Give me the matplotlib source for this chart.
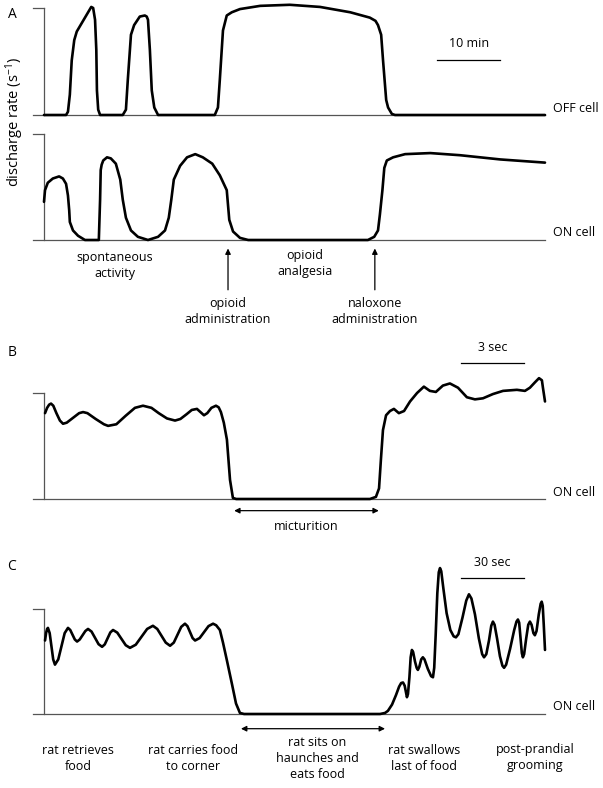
import numpy as np
import matplotlib
matplotlib.use("Agg")
import matplotlib.pyplot as plt

plt.rcParams['font.family'] = ['Open Sans', 'DejaVu Sans']
plt.rcParams['mathtext.fontset'] = 'custom'
plt.rcParams['mathtext.rm'] = 'Open Sans'
plt.rcParams['mathtext.it'] = 'Open Sans'

# ---- data (time in panel units, rate in % of the tick mark) ----
# panel A, OFF cell (min)
off_t = [0, 3.5, 3.8, 4.1, 4.4, 4.8, 5.2, 6.3, 7.2, 7.5, 7.8, 8.1, 8.3, 8.4, 8.6, 8.9,
         12.5, 13.0, 13.3, 13.8, 14.3, 15.2, 16.0, 16.3, 16.5, 16.8, 17.1, 17.5, 18.1,
         27.1, 27.6, 27.9, 28.4, 29.0, 29.8, 31.1, 34.3, 39.0, 43.8, 48.6, 51.7,
         52.6, 53.0, 53.5, 53.8, 54.3, 54.6, 55.2, 55.7, 79.5]
off_r = [0, 0, 3, 19, 51, 70, 78, 89, 98, 101, 100, 89, 61, 23, 5, 0,
         0, 5, 33, 75, 84, 92, 93, 92, 89, 61, 23, 7, 0,
         0, 7, 33, 79, 93, 96, 99, 102, 103, 101, 96, 91,
         88, 84, 75, 51, 14, 7, 1, 0, 0]

# panel A, ON cell (min)
on_t = [0, 0.16, 0.6, 1.4, 2.4, 3.0, 3.5, 3.8, 4.0, 4.1, 4.6, 5.4, 6.5, 8.7,
        8.9, 9.0, 9.15, 9.4, 10.0, 10.6, 11.4, 12.1, 12.5, 13.0, 13.8, 14.9, 16.5,
        18.1, 19.2, 19.8, 20.2, 20.6, 21.6, 22.7, 24.0, 25.2, 26.7, 27.9, 29.0,
        29.2, 29.4, 30.0, 31.1, 32.4, 51.4, 52.4, 53.0, 53.3, 53.7, 54.0, 54.4,
        55.4, 57.3, 61.3, 66.0, 72.4, 79.5]
on_r = [36, 47, 54, 58, 60, 58, 53, 42, 28, 17, 9, 4, 0, 0,
        38, 66, 71, 75, 78, 77, 72, 57, 38, 21, 9, 3, 0,
        3, 9, 21, 38, 57, 70, 78, 81, 78, 72, 61, 47,
        33, 19, 8, 2, 0, 0, 3, 9, 24, 47, 68, 75,
        78, 81, 82, 80, 76, 73]

# panel B, ON cell (s)
b_t = [0.05, 0.15, 0.25, 0.34, 0.45, 0.6, 0.77, 0.92, 1.1, 1.4, 1.7, 1.89,
       2.1, 2.5, 2.9, 3.1, 3.5, 3.95, 4.4, 4.79, 5.2, 5.55, 5.95, 6.34, 6.6,
       6.9, 7.15, 7.4, 7.57, 7.74, 7.9, 8.1, 8.32, 8.45, 8.56, 8.7, 8.85, 9.0,
       9.14, 9.3, 9.48, 15.77, 16.06,
       16.21, 16.30, 16.40, 16.55, 16.74, 16.93, 17.17, 17.42, 17.71, 18.05,
       18.38, 18.67, 18.96, 19.30, 19.64, 20.03, 20.46, 20.85, 21.24, 21.72,
       22.21, 22.88, 23.27, 23.51, 23.75, 23.95, 24.09, 24.14, 24.24]
b_r = [81, 86, 89, 90, 88, 81, 74, 71, 72, 76.5, 81, 82,
       81, 75.5, 70.5, 69, 70.5, 78.5, 86, 88, 86, 81, 76, 74, 75.5,
       80, 84, 85, 82, 79, 81, 86, 88, 86.5, 82, 72, 56, 18,
       1, 0, 0, 0, 2,
       10, 37, 65, 79, 83, 85, 81, 83, 92, 100,
       106, 102, 101, 107, 109, 105, 96, 94, 95, 99,
       102, 103, 102, 105, 110, 114, 112, 105, 92]

# panel C, ON cell (s)
c_t = [0.5, 1.0, 1.5, 1.9, 2.75, 3.6, 4.45, 5.3, 6.9, 8.45, 10.0, 11.6,
       12.7, 13.8, 14.9, 16.0, 17.3, 18.65, 20.0, 21.3, 23.0, 24.7, 26.4, 28.1,
       29.4, 30.75, 32.1, 33.4, 35.45, 37.5, 39.55, 41.6, 44.4, 47.15, 49.9,
       52.7, 54.8, 56.85, 58.9, 61.0, 62.8, 64.6, 66.4, 68.2, 69.4, 70.65,
       71.9, 73.1, 75.3, 77.45, 79.6, 81.8, 83.3, 85.1, 86.6, 88.5, 91.0,
       92.9, 94.8, 96.8,
       162.6, 165.0, 166.4, 168.4, 170.3, 171.8, 172.8, 173.7, 174.5, 175.1,
       175.6, 176.1, 176.8, 177.4, 178.0, 178.6, 179.5, 180.3, 180.9, 181.6,
       182.5, 183.3, 184.1, 185.7, 187.3, 188.2, 188.8, 189.5, 190.3, 191.0,
       191.6, 192.2, 193.2, 194.8, 196.6, 198.2, 199.3, 200.5, 202.5, 204.3,
       205.6, 206.8, 208.5, 210.4, 212.0, 212.9, 214.0, 215.3, 216.4, 217.2,
       218.0, 219.2, 220.6, 221.8, 222.6, 223.6, 225.5, 227.5, 228.6, 229.3,
       229.9, 230.6, 231.2, 231.7, 232.3, 233.3, 234.3, 235.1, 235.9, 236.8,
       237.5, 238.3, 239.4, 240.3, 240.8, 241.3, 241.8, 242.4]
c_r = [70, 77, 81, 82, 77, 64.5, 52, 47, 52, 64.5, 77, 82,
       80, 75.5, 71, 69, 71, 75, 79, 81, 78.5, 72.5, 66.5, 64,
       66.3, 72, 77.7, 80, 77.5, 71.5, 65.5, 63, 66, 73.5, 81,
       84, 81, 74.5, 68, 65, 68, 75.5, 83, 86, 83.7, 78,
       72.3, 70, 72.3, 78, 83.7, 86, 84.5, 80, 68, 51, 28,
       10, 1, 0,
       0, 1, 3, 9, 18, 26, 29.5, 30, 27, 21,
       16, 19, 35, 54, 61, 59, 50, 44, 42, 45,
       52, 54, 52, 43, 36, 35, 44, 75, 115, 135,
       139, 136, 120, 96, 80, 74, 73, 76, 92, 108,
       114, 110, 95, 72, 57, 54, 57, 70, 84, 88,
       85, 72, 55, 46, 44, 47, 62, 80, 88, 90,
       87, 72, 58, 54, 57, 72, 85, 88, 85, 77,
       75, 79, 95, 105, 107, 103, 85, 61]

a_events = ['opioid\nadministration', 'naloxone\nadministration']
a_event_t = [29.2, 52.5]
c_labels = ['rat retrieves\nfood', 'rat carries food\nto corner',
            'rat swallows\nlast of food', 'post-prandial\ngrooming']
c_label_x = [78, 193, 424, 535]

W, H = 603, 788
fig = plt.figure(figsize=(W / 100, H / 100), dpi=100)
AX = '#555555'
FS = 9


def ptext(x, y, s, **kw):
    kw.setdefault('fontsize', FS)
    kw.setdefault('ha', 'center')
    kw.setdefault('va', 'center')
    return fig.text(x / W, 1 - y / H, s, **kw)


def trace_axes(base, top, span):
    ax = fig.add_axes([44 / W, 1 - base / H, 501 / W, (base - top) / H])
    ax.set_xlim(0, span)
    ax.set_ylim(0, 100)
    ax.axis('off')
    tick = 11 * span / 501
    ax.plot([0, 0], [0, 100], color=AX, lw=0.9, clip_on=False)
    ax.plot([-tick, 0], [100, 100], color=AX, lw=0.9, clip_on=False)
    ax.plot([-tick, span], [0, 0], color=AX, lw=0.9, clip_on=False)
    return ax


def draw(ax, t, r):
    ax.plot(t, r, color='k', lw=1.9, clip_on=False,
            solid_joinstyle='round', solid_capstyle='round')


# panel A
ax_off = trace_axes(115, 8, 79.5)
draw(ax_off, off_t, off_r)
ax_off.plot([62.4, 72.4], [51, 51], color='k', lw=0.9)
ax_off.text(67.4, 67, '10 min', ha='center', va='center', fontsize=FS)

ax_on = trace_axes(240, 134, 79.5)
draw(ax_on, on_t, on_r)
for s, t in zip(a_events, a_event_t):
    ax_on.annotate('', xy=(t, -8), xytext=(t, -47), annotation_clip=False,
                   arrowprops=dict(arrowstyle='-|>', color='k', lw=0.9,
                                   mutation_scale=8, shrinkA=0, shrinkB=0))
    ptext(44 + t * 6.3, 311, s, linespacing=1.3)

ptext(553, 108, 'OFF cell', ha='left')
ptext(553, 233, 'ON cell', ha='left')
ptext(12, 14, 'A', fontsize=10)
ptext(15, 122, r'discharge rate (s$^{-1}$)', rotation=90, fontsize=10.5)
ptext(115, 266, 'spontaneous\nactivity', linespacing=1.3)
ptext(305, 264, 'opioid\nanalgesia', linespacing=1.3)

# panel B
ax_b = trace_axes(499, 393, 24.24)
draw(ax_b, b_t, b_r)
ax_b.plot([20.2, 23.2], [128, 128], color='k', lw=0.9, clip_on=False)
ax_b.text(21.7, 143, '3 sec', ha='center', va='center', fontsize=FS)
ax_b.annotate('', xy=(9.2, -11), xytext=(16.2, -11), annotation_clip=False,
              arrowprops=dict(arrowstyle='<|-|>', color='k', lw=0.9,
                              mutation_scale=8, shrinkA=0, shrinkB=0))
ptext(306, 526, 'micturition')
ptext(553, 492, 'ON cell', ha='left')
ptext(12, 352, 'B', fontsize=10)

# panel C
ax_c = trace_axes(714, 609, 242.4)
draw(ax_c, c_t, c_r)
ax_c.plot([202, 232], [130, 130], color='k', lw=0.9, clip_on=False)
ax_c.text(217, 144, '30 sec', ha='center', va='center', fontsize=FS)
ax_c.annotate('', xy=(95.3, -14), xytext=(165, -14), annotation_clip=False,
              arrowprops=dict(arrowstyle='<|-|>', color='k', lw=0.9,
                              mutation_scale=8, shrinkA=0, shrinkB=0))
ptext(553, 707, 'ON cell', ha='left')
ptext(12, 566, 'C', fontsize=10)
for s, x in zip(c_labels, c_label_x):
    ptext(x, 758, s, linespacing=1.3)
ptext(317, 758, 'rat sits on\nhaunches and\neats food', linespacing=1.3)

fig.savefig('out.png', dpi=100)
